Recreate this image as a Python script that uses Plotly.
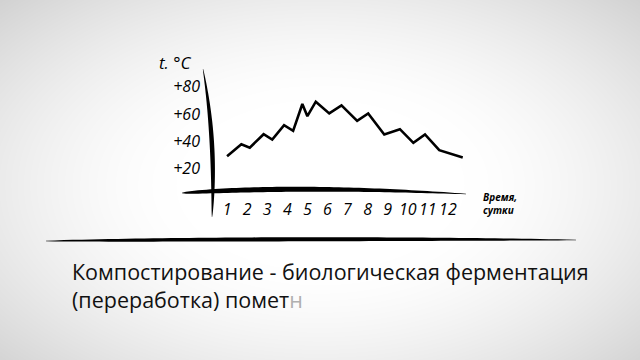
import base64, struct, zlib
import numpy as np
import plotly.graph_objects as go

# ---- data ----
day = [1.0, 1.71, 2.13, 2.82, 3.25, 3.84, 4.29, 4.75, 5.0, 5.42, 6.09, 6.70,
       7.48, 8.03, 8.83, 9.61, 10.28, 10.86, 11.57, 12.74]
temp = [29.1, 37.9, 35.4, 45.2, 41.3, 51.8, 47.7, 67.3, 58.4, 69.0, 60.4, 66.3,
        55.0, 60.4, 45.0, 48.9, 38.9, 45.0, 33.5, 28.1]
x_tickvals = [1, 2, 3, 4, 5, 6, 7, 8, 9, 10, 11, 12]
x_ticktext = ["1", "2", "3", "4", "5", "6", "7", "8", "9", "10", "11", "12"]
y_tickvals = [20, 40, 60, 80]
y_ticktext = ["+20", "+40", "+60", "+80"]
y_title = "t. °C"
x_title = "Время,<br>сутки"
caption = ("Компостирование - биологическая ферментация<br>"
           "(переработка) помет<span style='color:#b0b0b0'>н</span>")

W, H = 640, 360
ML, MR, MT, MB = 207, 162, 73, 164
PW, PH = W - ML - MR, H - MT - MB


def px2paper(x, y):
    return (x - ML) / PW, 1 - (y - MT) / PH


# ---- vignette background png ----
def make_png(arr):
    h, w, _ = arr.shape
    raw = b"".join(b"\x00" + arr[i].tobytes() for i in range(h))
    def chunk(t, d):
        c = struct.pack(">I", len(d)) + t + d
        return c + struct.pack(">I", zlib.crc32(t + d) & 0xffffffff)
    png = b"\x89PNG\r\n\x1a\n" + chunk(b"IHDR", struct.pack(">IIBBBBB", w, h, 8, 2, 0, 0, 0))
    png += chunk(b"IDAT", zlib.compress(raw, 9)) + chunk(b"IEND", b"")
    return "data:image/png;base64," + base64.b64encode(png).decode()

yy, xx = np.mgrid[0:H, 0:W]
r = np.sqrt(((xx - 320) / 320.0) ** 2 + ((yy - 185) / 190.0) ** 2)
t = np.clip((r - 0.45) / 0.95, 0, 1)
v = (255 - 45 * t ** 1.5).astype(np.uint8)
img = np.stack([v, v, v], axis=-1)
bg_src = make_png(img)


# ---- brush strokes ----
def stroke(p0, p1, p2, wmax, peak=0.5, n=60):
    ts = np.linspace(0, 1, n)
    pts = [((1 - t) ** 2 * p0[0] + 2 * (1 - t) * t * p1[0] + t ** 2 * p2[0],
            (1 - t) ** 2 * p0[1] + 2 * (1 - t) * t * p1[1] + t ** 2 * p2[1]) for t in ts]
    left, right = [], []
    for i, t in enumerate(ts):
        a = pts[max(i - 1, 0)]
        b = pts[min(i + 1, n - 1)]
        dx, dy = b[0] - a[0], b[1] - a[1]
        L = np.hypot(dx, dy)
        nx, ny = -dy / L, dx / L
        tt = t ** (np.log(0.5) / np.log(peak))
        w = 0.3 + wmax * np.sin(np.pi * tt) ** 0.7
        left.append((pts[i][0] + nx * w / 2, pts[i][1] + ny * w / 2))
        right.append((pts[i][0] - nx * w / 2, pts[i][1] - ny * w / 2))
    poly = left + right[::-1]
    s = ""
    for k, (x, y) in enumerate(poly):
        X, Y = px2paper(x, y)
        s += ("M" if k == 0 else "L") + f"{X:.5f},{Y:.5f} "
    return s + "Z"


shapes = [
    dict(type="path", xref="paper", yref="paper", line=dict(width=0), fillcolor="black",
         path=stroke((203, 69), (216, 140), (212, 217), 4.2, peak=0.55)),
    dict(type="path", xref="paper", yref="paper", line=dict(width=0), fillcolor="black",
         path=stroke((182, 193), (300, 185), (466, 194), 4.8, peak=0.35)),
    dict(type="path", xref="paper", yref="paper", line=dict(width=0), fillcolor="black",
         path=stroke((46, 241), (310, 238), (576, 240), 3.8, peak=0.45)),
]

fig = go.Figure()
fig.add_trace(go.Scatter(x=day, y=temp, mode="lines",
                         line=dict(color="black", width=2.6), hoverinfo="skip"))

font_hand = "Open Sans"


def ann(text, px, py, size, xanchor="center", **fkw):
    X, Y = px2paper(px, py)
    return dict(text=text, x=X, y=Y, xref="paper", yref="paper", xanchor=xanchor,
                yanchor="middle", showarrow=False, align="left",
                font=dict(family=font_hand, size=size, **fkw))


annotations = [
    ann(y_title, 175, 62, 17, color="black", style="italic"),
    ann(x_title, 481, 203, 10, xanchor="left", color="black", weight="bold", style="italic"),
    ann(caption, 70, 285, 21.5, xanchor="left", color="#111"),
]

fig.update_layout(
    width=W, height=H,
    margin=dict(l=ML, r=MR, t=MT, b=MB),
    paper_bgcolor="white", plot_bgcolor="rgba(0,0,0,0)",
    showlegend=False,
    shapes=shapes,
    annotations=annotations,
    images=[dict(source=bg_src, xref="paper", yref="paper",
                 x=-ML / PW, y=1 + MT / PH, sizex=W / PW, sizey=H / PH,
                 xanchor="left", yanchor="top", sizing="stretch", layer="below")],
    xaxis=dict(range=[0, 13.5], tickvals=x_tickvals, ticktext=x_ticktext,
               showgrid=False, zeroline=False, showline=False, ticks="",
               ticklabelstandoff=2,
               tickfont=dict(family=font_hand, size=16, color="black", style="italic")),
    yaxis=dict(range=[0, 90], tickvals=y_tickvals, ticktext=y_ticktext,
               showgrid=False, zeroline=False, showline=False, ticks="",
               ticklabelstandoff=6,
               tickfont=dict(family=font_hand, size=16, color="black", style="italic")),
)

fig.write_html("out.html")
